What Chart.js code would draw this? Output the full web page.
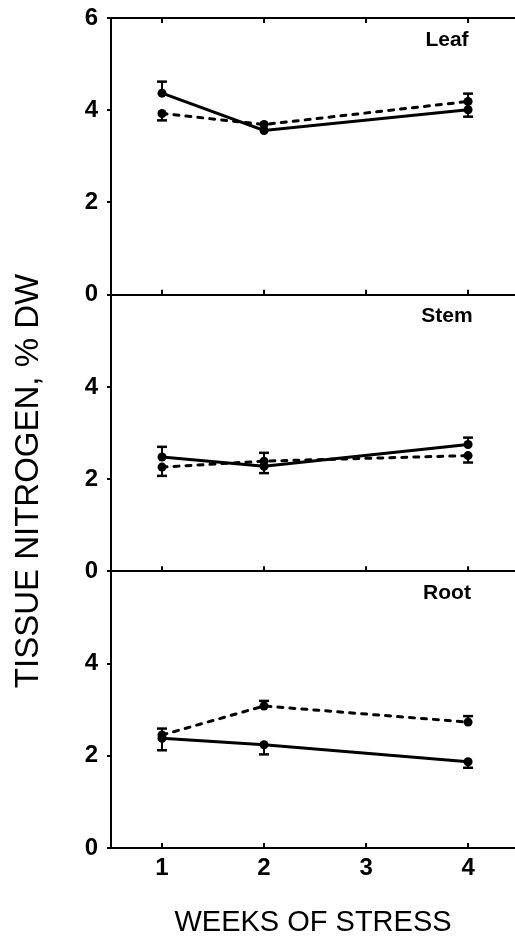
<!DOCTYPE html>
<html lang="en">
<head>
  <meta charset="UTF-8" />
  <title>Tissue nitrogen</title>
  <script src="https://cdn.jsdelivr.net/npm/chart.js"></script>
  <style>
    body {
      margin: 0;
      background: #fff;
      overflow: hidden;
    }
    .wrap {
      position: relative;
      width: 515px;
      height: 941px;
    }
  </style>
</head>
<body>

<div class="wrap"><canvas id="nitrogenChart"></canvas></div>

<script>
  const weeks = [1, 2, 4];
  const weekTicks = [1, 2, 3, 4];
  const yTicks = [0, 2, 4, 6];

  // tissue N (% DW), solid and dashed treatments
  const leafSolid = [4.37, 3.56, 4.01];
  const leafDashed = [3.93, 3.69, 4.19];
  const stemSolid = [2.48, 2.28, 2.75];
  const stemDashed = [2.26, 2.39, 2.51];
  const rootSolid = [2.38, 2.24, 1.87];
  const rootDashed = [2.45, 3.08, 2.73];

  // error bars, [below, above]
  const leafSolidErr = [[0, 0.25], [0, 0], [0.15, 0]];
  const leafDashedErr = [[0.15, 0], [0, 0], [0, 0.17]];
  const stemSolidErr = [[0, 0.22], [0.15, 0], [0, 0.15]];
  const stemDashedErr = [[0.19, 0], [0, 0.18], [0.15, 0]];
  const rootSolidErr = [[0.26, 0], [0.21, 0], [0.13, 0]];
  const rootDashedErr = [[0, 0.14], [0, 0.11], [0, 0.13]];

  const FONT = '"Liberation Sans", Arial, sans-serif';

  function series(vals, errs, dashed, axis) {
    return {
      data: weeks.map((w, i) => ({ x: w, y: vals[i] })),
      errorBars: errs,
      yAxisID: axis,
      borderColor: '#000',
      backgroundColor: '#000',
      borderWidth: 3,
      borderDash: dashed ? [5, 7] : [],
      borderCapStyle: dashed ? 'round' : 'butt',
      pointRadius: 4.5,
      pointBorderWidth: 0,
      pointBackgroundColor: '#000',
      tension: 0
    };
  }

  function yAxis(label, showTop) {
    return {
      type: 'linear',
      position: 'left',
      stack: 'tissue',
      stackWeight: 1,
      min: 0,
      max: 6,
      panelName: label,
      afterBuildTicks: s => { s.ticks = yTicks.map(v => ({ value: v })); },
      afterFit: s => {
        s.width = 111;
        s.paddingTop = 0;
        s.paddingBottom = 0;
      },
      ticks: {
        color: '#000',
        padding: 9,
        autoSkip: false,
        font: { family: FONT, size: 24, weight: 'bold' },
        callback: v => (v === 6 && !showTop) ? '' : v
      },
      grid: {
        color: c => (c.tick.value === 0 || (showTop && c.tick.value === 6)) ? '#000' : 'rgba(0,0,0,0)',
        lineWidth: 2,
        drawTicks: true,
        tickLength: 4,
        tickColor: '#000',
        tickWidth: 2
      },
      border: { display: true, color: '#000', width: 2 }
    };
  }

  // error bars, inward week ticks, panel names and the shared y title
  const decorations = {
    id: 'decorations',
    afterDatasetsDraw(chart) {
      const { ctx, scales } = chart;
      const xs = scales.x;
      ctx.save();
      ctx.strokeStyle = '#000';
      ctx.fillStyle = '#000';

      chart.data.datasets.forEach(ds => {
        const ys = scales[ds.yAxisID];
        ds.data.forEach((p, i) => {
          const [lo, hi] = ds.errorBars[i];
          if (!lo && !hi) return;
          const px = xs.getPixelForValue(p.x);
          const y1 = ys.getPixelForValue(p.y - lo);
          const y2 = ys.getPixelForValue(p.y + hi);
          ctx.lineWidth = 2;
          ctx.beginPath();
          ctx.moveTo(px, y1);
          ctx.lineTo(px, y2);
          ctx.stroke();
          ctx.lineWidth = 2.5;
          ctx.beginPath();
          if (lo) { ctx.moveTo(px - 5, y1); ctx.lineTo(px + 5, y1); }
          if (hi) { ctx.moveTo(px - 5, y2); ctx.lineTo(px + 5, y2); }
          ctx.stroke();
        });
      });

      ctx.lineWidth = 2;
      ['yLeaf', 'yStem', 'yRoot'].forEach(id => {
        const ys = scales[id];
        const base = ys.getPixelForValue(0);
        ctx.beginPath();
        weekTicks.forEach(w => {
          const px = xs.getPixelForValue(w);
          ctx.moveTo(px, base);
          ctx.lineTo(px, base - 5);
          if (id === 'yLeaf') {
            const top = ys.getPixelForValue(6);
            ctx.moveTo(px, top);
            ctx.lineTo(px, top + 5);
          }
        });
        ctx.stroke();

        ctx.font = 'bold 21px ' + FONT;
        ctx.textAlign = 'center';
        ctx.textBaseline = 'middle';
        ctx.fillText(ys.options.panelName, 447, ys.top + 22);
      });

      ctx.translate(29, 481);
      ctx.rotate(-Math.PI / 2);
      ctx.font = '33px ' + FONT;
      ctx.textAlign = 'center';
      ctx.textBaseline = 'middle';
      ctx.fillText('TISSUE NITROGEN, % DW', 0, 0);
      ctx.restore();
    }
  };

  new Chart(document.getElementById('nitrogenChart'), {
    type: 'line',
    data: {
      datasets: [
        series(leafSolid, leafSolidErr, false, 'yLeaf'),
        series(leafDashed, leafDashedErr, true, 'yLeaf'),
        series(stemSolid, stemSolidErr, false, 'yStem'),
        series(stemDashed, stemDashedErr, true, 'yStem'),
        series(rootSolid, rootSolidErr, false, 'yRoot'),
        series(rootDashed, rootDashedErr, true, 'yRoot')
      ]
    },
    options: {
      responsive: true,
      maintainAspectRatio: false,
      animation: false,
      layout: {
        autoPadding: false,
        padding: { top: 18, right: 0, bottom: 0, left: 0 }
      },
      plugins: {
        legend: { display: false },
        tooltip: { enabled: false }
      },
      scales: {
        // stacked axes are laid out bottom-up in definition order
        yRoot: yAxis('Root', false),
        yStem: yAxis('Stem', false),
        yLeaf: yAxis('Leaf', true),
        x: {
          type: 'linear',
          min: 0.5,
          max: 4.46,
          afterBuildTicks: s => { s.ticks = weekTicks.map(v => ({ value: v })); },
          afterFit: s => {
            s.height = 93;
            s.paddingLeft = 0;
            s.paddingRight = 0;
          },
          grid: { display: false, drawTicks: false },
          border: { display: true, color: '#000', width: 2 },
          ticks: {
            color: '#000',
            padding: 6,
            font: { family: FONT, size: 24, weight: 'bold' }
          },
          title: {
            display: true,
            text: 'WEEKS OF STRESS',
            color: '#000',
            font: { family: FONT, size: 29 },
            padding: { top: 0, bottom: 1 }
          }
        }
      }
    },
    plugins: [decorations]
  });
</script>

</body>
</html>
